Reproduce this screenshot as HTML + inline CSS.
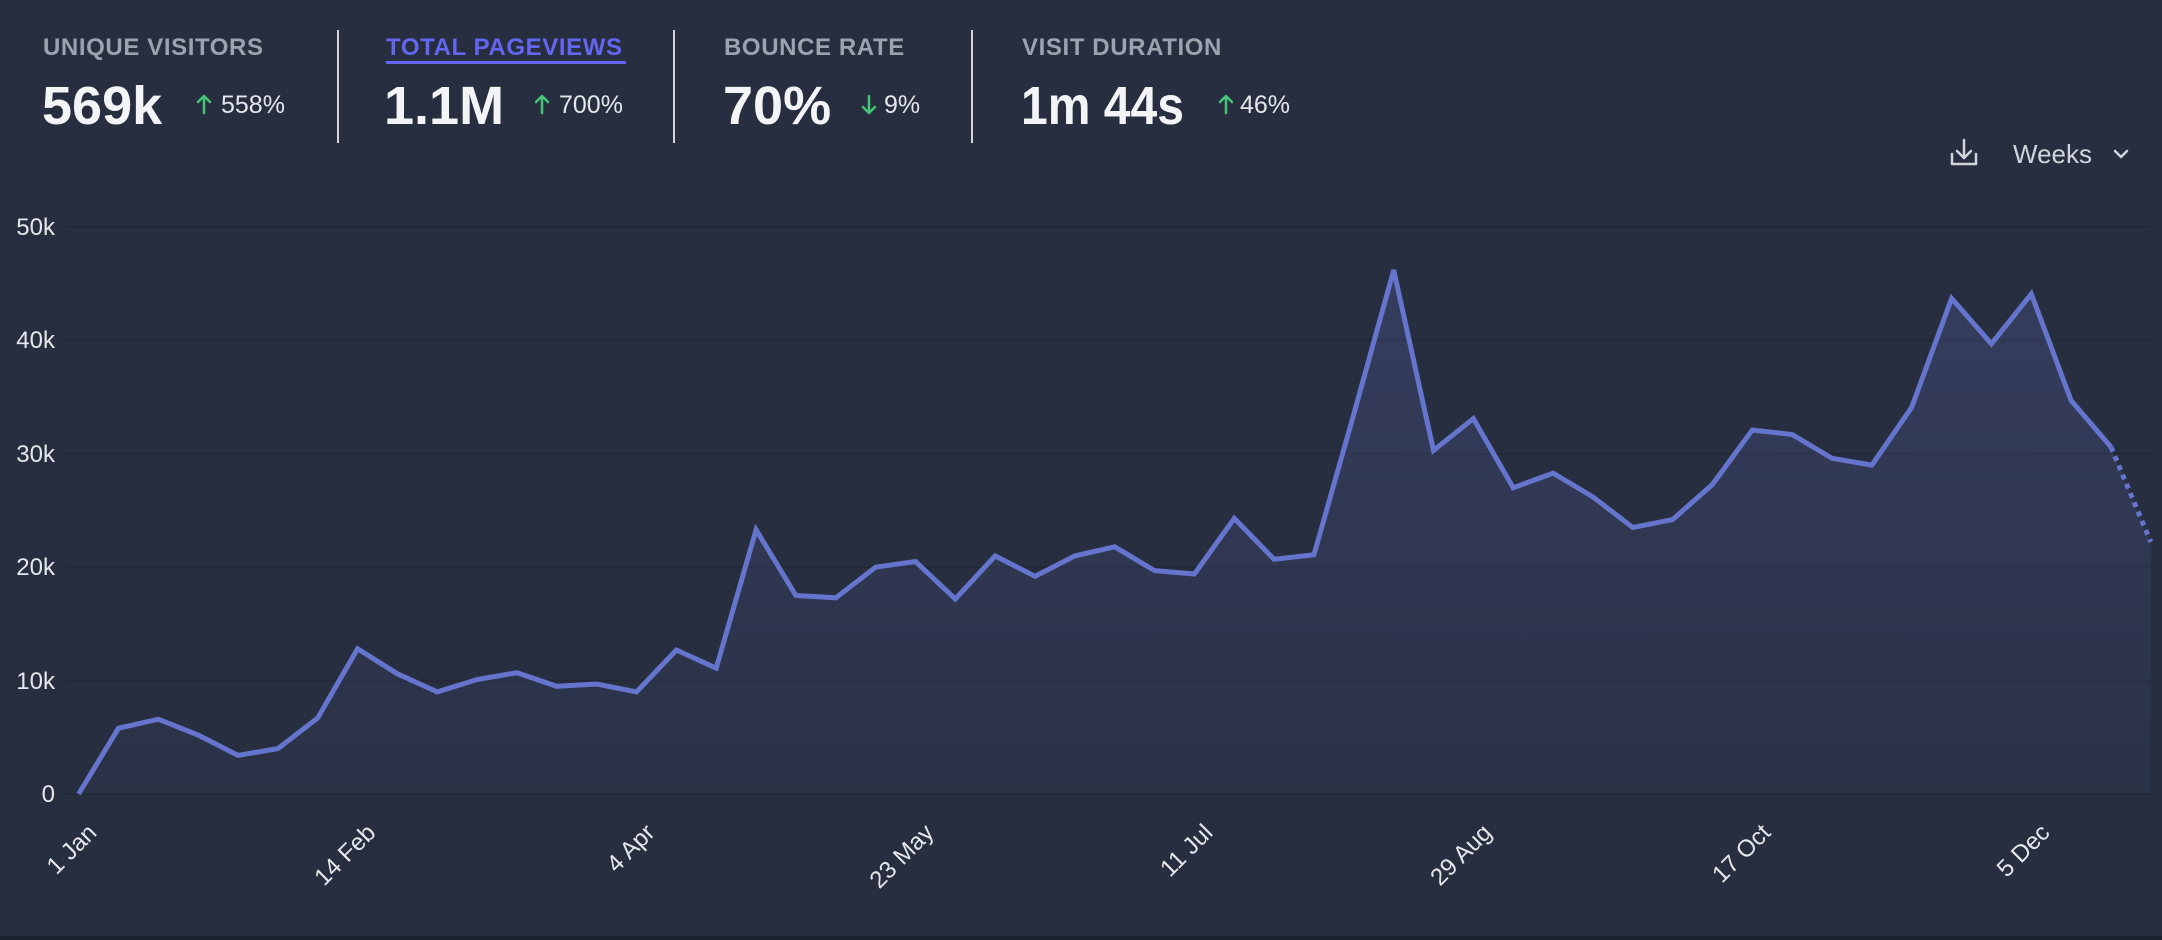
<!DOCTYPE html>
<html><head><meta charset="utf-8"><style>
html,body{margin:0;padding:0;background:#272e3f;width:2162px;height:940px;overflow:hidden;font-family:"Liberation Sans",sans-serif}
</style></head><body>
<svg width="2162" height="940" viewBox="0 0 2162 940" xmlns="http://www.w3.org/2000/svg" style="position:absolute;left:0;top:0">
<defs>
<linearGradient id="g" x1="0" y1="0" x2="0" y2="1">
<stop offset="0" stop-color="#6574cd" stop-opacity="0.22"/>
<stop offset="1" stop-color="#6574cd" stop-opacity="0.05"/>
</linearGradient>
</defs>
<rect x="0" y="0" width="2162" height="940" fill="#272e3f"/>
<rect x="0" y="936" width="2162" height="4" fill="#1d2230"/>
<g font-weight="bold" font-size="24" fill="#9ca3af" letter-spacing="0.6">
<text x="43" y="55">UNIQUE VISITORS</text>
<text x="386" y="55" fill="#6366f1">TOTAL PAGEVIEWS</text>
<text x="724" y="55">BOUNCE RATE</text>
<text x="1022" y="55">VISIT DURATION</text>
</g>
<rect x="386" y="61" width="240" height="3" fill="#6366f1"/>
<g stroke="#d1d5db" stroke-width="2">
<line x1="338" y1="30" x2="338" y2="143"/>
<line x1="674" y1="30" x2="674" y2="143"/>
<line x1="972" y1="30" x2="972" y2="143"/>
</g>
<g font-weight="bold" font-size="54" fill="#f3f4f6">
<text x="42" y="124">569k</text>
<text x="384" y="124">1.1M</text>
<text x="723" y="124">70%</text>
<text x="1021" y="124" textLength="163" lengthAdjust="spacingAndGlyphs">1m 44s</text>
</g>
<g stroke="#4ade80" stroke-width="2.5" fill="none" stroke-linecap="round" stroke-linejoin="round" opacity="0.85">
<path d="M204 113 V96 M198 102 L204 96 L210 102"/>
<path d="M542 113 V96 M536 102 L542 96 L548 102"/>
<path d="M869 96 V113 M863 107 L869 113 L875 107"/>
<path d="M1226 113 V96 M1220 102 L1226 96 L1232 102"/>
</g>
<g font-size="25" fill="#e5e7eb">
<text x="221" y="113">558%</text>
<text x="559" y="113">700%</text>
<text x="884" y="113">9%</text>
<text x="1240" y="113">46%</text>
</g>
<g stroke="#d1d5db" stroke-width="2.5" fill="none" stroke-linecap="round" stroke-linejoin="round">
<path d="M1964 140 V158 M1957 151 L1964 158 L1971 151"/>
<path d="M1952 154 V164 H1976 V154"/>
<path d="M2115 151 L2121 157 L2127 151"/>
</g>
<text x="2013" y="163" font-size="26" fill="#d1d5db">Weeks</text>
<g stroke="#222837" stroke-width="2">
<line x1="65" y1="227" x2="2151" y2="227"/>
<line x1="65" y1="340.4" x2="2151" y2="340.4"/>
<line x1="65" y1="453.8" x2="2151" y2="453.8"/>
<line x1="65" y1="567.2" x2="2151" y2="567.2"/>
<line x1="65" y1="680.6" x2="2151" y2="680.6"/>
<line x1="65" y1="794" x2="2151" y2="794"/>
</g>
<g font-size="24" fill="#e5e7eb" text-anchor="end">
<text x="55" y="235">50k</text>
<text x="55" y="348">40k</text>
<text x="55" y="462">30k</text>
<text x="55" y="575">20k</text>
<text x="55" y="689">10k</text>
<text x="55" y="802">0</text>
</g>
<g font-size="24" fill="#e5e7eb" text-anchor="end">
<text transform="translate(98,834) rotate(-45)">1 Jan</text>
<text transform="translate(377,834) rotate(-45)">14 Feb</text>
<text transform="translate(656,834) rotate(-45)">4 Apr</text>
<text transform="translate(935,834) rotate(-45)">23 May</text>
<text transform="translate(1214,834) rotate(-45)">11 Jul</text>
<text transform="translate(1493,834) rotate(-45)">29 Aug</text>
<text transform="translate(1772,834) rotate(-45)">17 Oct</text>
<text transform="translate(2051,834) rotate(-45)">5 Dec</text>
</g>
<path fill="url(#g)" d="M78.6,794 L118.5,728.2 158.3,719.2 198.2,735 238,755.4 277.9,748.6 317.7,718 357.6,648.8 397.4,673.8 437.3,691.9 477.1,679.5 517,672.7 556.8,686.3 596.7,684 636.5,691.9 676.4,650 716.2,668.1 756.1,529.8 795.9,595.5 835.8,597.8 875.6,567.2 915.5,561.5 955.3,599 995.2,555.9 1035,576.3 1074.9,555.9 1114.7,546.8 1154.6,570.6 1194.4,574 1234.3,518.4 1274.1,559.3 1314,554.7 1353.8,414.1 1393.7,270.1 1433.5,450.4 1473.4,418.6 1513.2,487.8 1553.1,473.1 1592.9,496.9 1632.8,527.5 1672.6,519.6 1712.5,484.4 1752.3,430 1792.2,434.5 1832,458.3 1871.9,465.1 1911.7,407.3 1951.6,298.4 1991.4,343.8 2031.3,293.9 2071.1,400.5 2111,447 2150.8,542 L2150.8,794 Z"/>
<polyline fill="none" stroke="#6574cd" stroke-width="5" stroke-linejoin="miter" points="78.6,794 118.5,728.2 158.3,719.2 198.2,735 238,755.4 277.9,748.6 317.7,718 357.6,648.8 397.4,673.8 437.3,691.9 477.1,679.5 517,672.7 556.8,686.3 596.7,684 636.5,691.9 676.4,650 716.2,668.1 756.1,529.8 795.9,595.5 835.8,597.8 875.6,567.2 915.5,561.5 955.3,599 995.2,555.9 1035,576.3 1074.9,555.9 1114.7,546.8 1154.6,570.6 1194.4,574 1234.3,518.4 1274.1,559.3 1314,554.7 1353.8,414.1 1393.7,270.1 1433.5,450.4 1473.4,418.6 1513.2,487.8 1553.1,473.1 1592.9,496.9 1632.8,527.5 1672.6,519.6 1712.5,484.4 1752.3,430 1792.2,434.5 1832,458.3 1871.9,465.1 1911.7,407.3 1951.6,298.4 1991.4,343.8 2031.3,293.9 2071.1,400.5 2111,447"/>
<line x1="2111" y1="447" x2="2150.8" y2="542" stroke="#6574cd" stroke-width="5" stroke-dasharray="5 5"/>
</svg>
</body></html>
